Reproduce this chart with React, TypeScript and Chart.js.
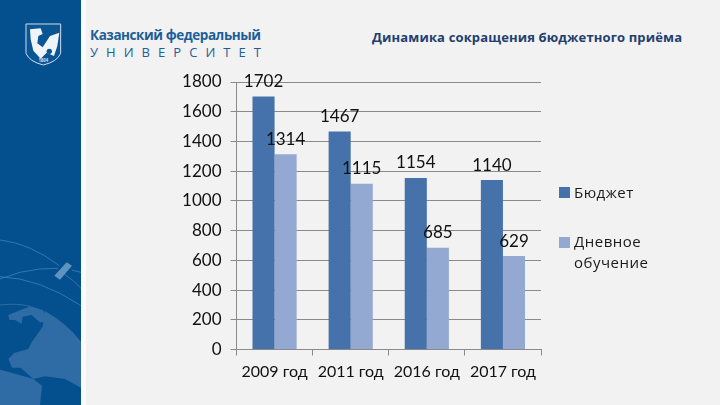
import React, { useRef, useEffect } from 'react';
import Chart from 'chart.js/auto';

const categories = ['2009 год', '2011 год', '2016 год', '2017 год'];
const budget = [1702, 1467, 1154, 1140];
const fullTime = [1314, 1115, 685, 629];
const yTicks = [0, 200, 400, 600, 800, 1000, 1200, 1400, 1600, 1800];
const seriesNames = ['Бюджет', 'Дневное обучение'];

const NUM_FONT = 'Lato, "Open Sans", sans-serif';
const TEXT_FONT = '"Open Sans", sans-serif';
const DARK = '#4672ab';
const LIGHT = '#93a9d1';
const AXIS = '#8a8a8a';

// value labels above the bars + the hand made legend on the right
const labelsPlugin = {
  id: 'barLabels',
  afterDatasetsDraw(chart: any) {
    const { ctx } = chart;
    ctx.save();
    ctx.fillStyle = '#111';
    ctx.font = `17px ${NUM_FONT}`;
    ctx.textAlign = 'center';
    ctx.textBaseline = 'middle';
    chart.data.datasets.forEach((ds: any, i: number) => {
      chart.getDatasetMeta(i).data.forEach((bar: any, j: number) => {
        ctx.fillText(String(ds.data[j]), bar.x, bar.y - 15);
      });
    });

    ctx.textAlign = 'left';
    ctx.font = `15px ${TEXT_FONT}`;
    ctx.fillStyle = DARK;
    ctx.fillRect(559, 187, 11, 11);
    ctx.fillStyle = LIGHT;
    ctx.fillRect(559, 237, 11, 11);
    ctx.fillStyle = '#1a1a1a';
    ctx.letterSpacing = '0.5px';
    ctx.fillText(seriesNames[0], 574, 194);
    const [first, second] = seriesNames[1].split(' ');
    ctx.fillText(first, 574, 243);
    ctx.fillText(second, 574, 264);
    ctx.restore();
  },
};

// side panel artwork, drawn in the 3x coordinates of the globe crop
const Decor = () => (
  <svg width={720} height={405} style={{ position: 'absolute', left: 0, top: 0 }}>
    <rect width={720} height={405} fill="#f3f2f2" />
    <rect x={81} width={5} height={405} fill="#fbfbfd" />
    <rect width={81} height={405} fill="#04508f" />
    <g transform="translate(0,235) scale(0.3333)">
      <path d="M135 228 Q200 265 243 320 L243 458 L195 432 L135 424 L100 432 L62 398 L36 398 L25 372 L42 354 L85 342 L95 322 L128 275 Z" fill="#2f6ca5" />
      <path d="M25 240 L60 226 L92 214 L130 226 L145 262 L120 262 L95 240 L68 245 L65 266 L45 255 L28 254 Z" fill="#2f6ca5" />
      <path d="M0 404 L50 418 L100 432 L126 452 L120 510 L0 510 Z" fill="#2f6ca5" />
      <path d="M0 210 Q50 204 92 214" stroke="#2f6ca5" strokeWidth={3} fill="none" />
      <path d="M0 15 Q90 25 178 92 M0 132 L60 112 Q120 98 175 100 M215 105 L243 112 M0 125 Q120 130 243 212 M190 115 Q220 135 243 160" stroke="#3f7cb3" strokeWidth={2.5} fill="none" />
      <path d="M163 122 L200 82 L216 92 L180 134 Z" fill="#5f93c2" />
    </g>
    <g transform="translate(0,10) scale(0.3333)">
      <path d="M78 42 L182 42 L182 130 Q172 155 130 165 Q88 155 78 130 Z" fill="#0a5593" stroke="#cfe0ef" strokeWidth={3} />
      <path d="M90 58 L122 55 L128 72 L115 78 L112 100 L128 112 L150 78 L178 68 L172 108 L162 138 L140 128 L122 146 L100 122 L92 88 Z" fill="#eef4f9" />
      <circle cx={148} cy={124} r={8} fill="#0a5593" />
      <text x={130} y={157} textAnchor="middle" fontFamily={TEXT_FONT} fontSize={13} fontWeight={700} fill="#cfe0ef">1804</text>
    </g>
    <text x={90} y={40} fontFamily={TEXT_FONT} fontSize={13.5} fontWeight={700} fill="#1c5e99" textLength={171}>Казанский федеральный</text>
    <text x={90} y={57} fontFamily={TEXT_FONT} fontSize={13} fill="#1c5e99" textLength={171}>УНИВЕРСИТЕТ</text>
    <text x={372} y={42} fontFamily={TEXT_FONT} fontSize={13} fontWeight={700} fill="#22406f" textLength={310}>Динамика сокращения бюджетного приёма</text>
  </svg>
);

const App: React.FC = () => {
  const chartRef = useRef<HTMLCanvasElement | null>(null);

  useEffect(() => {
    document.body.style.margin = '0';
    if (!chartRef.current) return;
    const chart = new Chart(chartRef.current, {
      type: 'bar',
      data: {
        labels: categories,
        datasets: [
          { label: seriesNames[0], data: budget, backgroundColor: DARK },
          { label: seriesNames[1], data: fullTime, backgroundColor: LIGHT },
        ],
      },
      plugins: [labelsPlugin],
      options: {
        responsive: false,
        animation: false,
        layout: { padding: { top: 82, right: 179, left: 0, bottom: 0 } },
        plugins: { legend: { display: false }, tooltip: { enabled: false } },
        datasets: { bar: { barPercentage: 1, categoryPercentage: 0.58 } },
        scales: {
          x: {
            afterFit: (s: any) => { s.height = 55.5; },
            grid: { drawOnChartArea: false, color: AXIS, tickLength: 6 },
            border: { color: AXIS },
            ticks: { color: '#111', font: { family: NUM_FONT, size: 16 }, padding: 7, maxRotation: 0 },
          },
          y: {
            min: 0,
            max: 1800,
            afterFit: (s: any) => { s.width = 236.5; },
            afterBuildTicks: (s: any) => { s.ticks = yTicks.map((value) => ({ value })); },
            grid: { color: AXIS, tickLength: 6 },
            border: { color: AXIS },
            ticks: {
              color: '#111',
              font: { family: NUM_FONT, size: 17 },
              padding: 9,
              callback: (v: any) => String(v),
            },
          },
        },
      },
    });
    return () => chart.destroy();
  }, []);

  return (
    <div style={{ position: 'relative', width: 720, height: 405, overflow: 'hidden' }}>
      <Decor />
      <canvas ref={chartRef} width={720} height={405} style={{ position: 'absolute', left: 0, top: 0 }} />
    </div>
  );
};

export default App;
